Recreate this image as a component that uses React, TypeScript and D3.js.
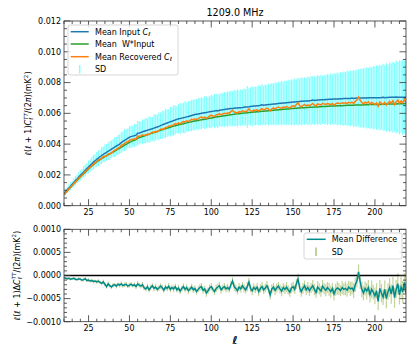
import React from 'react';
import * as d3 from 'd3';

// multipole range starts at l = 10, one value per l
const L_START = 10;
// values below are in units of 1e-5 mK^2
const UNIT = 1e-5;

const meanInput = [
  78, 90, 103, 115, 127, 139, 151, 163, 174, 186,
  197, 208, 219, 230, 241, 252, 262, 272, 283, 292,
  301, 309, 318, 326, 333, 340, 347, 354, 360, 367,
  374, 381, 388, 394, 400, 410, 418, 425, 431, 438,
  445, 449, 452, 455, 458, 471, 473, 476, 480, 484,
  487, 490, 494, 497, 500, 504, 508, 511, 515, 520,
  525, 529, 533, 537, 541, 546, 549, 553, 557, 561,
  565, 566, 569, 571, 574, 577, 580, 583, 586, 589,
  592, 594, 596, 598, 600, 602, 604, 606, 608, 610,
  612, 613, 615, 619, 616, 620, 621, 623, 625, 627,
  629, 630, 631, 632, 633, 634, 635, 636, 637, 638,
  640, 641, 642, 643, 645, 646, 647, 648, 649, 650,
  652, 655, 653, 655, 656, 657, 658, 659, 660, 661,
  663, 664, 665, 666, 667, 668, 669, 670, 671, 672,
  673, 674, 675, 676, 677, 678, 679, 680, 680, 681,
  682, 683, 686, 683, 685, 686, 687, 688, 688, 689,
  690, 690, 691, 692, 692, 693, 693, 694, 694, 695,
  695, 696, 696, 697, 697, 697, 700, 697, 698, 699,
  699, 699, 700, 700, 700, 700, 701, 701, 701, 701,
  702, 702, 702, 702, 703, 705, 701, 703, 703, 704,
  704, 704, 704, 706, 705, 705, 705, 705, 705, 705,
];

const meanWInput = [
  72, 84, 96, 108, 119, 131, 143, 154, 165, 176,
  187, 197, 208, 218, 228, 238, 248, 258, 267, 276,
  284, 292, 299, 306, 313, 319, 325, 331, 337, 343,
  349, 355, 361, 367, 373, 380, 386, 393, 399, 405,
  411, 416, 421, 425, 429, 438, 442, 446, 450, 453,
  457, 461, 464, 468, 472, 475, 479, 482, 486, 490,
  493, 497, 500, 504, 507, 510, 514, 517, 520, 523,
  526, 528, 531, 533, 536, 538, 541, 543, 546, 548,
  550, 552, 554, 556, 558, 560, 562, 564, 566, 568,
  570, 572, 574, 576, 578, 580, 581, 583, 585, 586,
  588, 589, 591, 592, 594, 595, 597, 598, 599, 600,
  602, 603, 604, 605, 606, 607, 608, 609, 610, 611,
  612, 613, 614, 615, 616, 617, 618, 619, 620, 621,
  622, 623, 624, 625, 626, 627, 628, 629, 630, 631,
  632, 633, 633, 634, 635, 636, 636, 637, 638, 638,
  639, 640, 640, 641, 642, 642, 643, 643, 644, 645,
  645, 646, 646, 647, 647, 648, 648, 649, 649, 650,
  650, 651, 651, 652, 652, 652, 653, 653, 654, 654,
  654, 655, 655, 655, 656, 656, 656, 657, 657, 657,
  657, 658, 658, 658, 659, 659, 659, 660, 660, 660,
  660, 661, 661, 661, 662, 662, 662, 663, 663, 663,
];

const meanRecovered = [
  73, 84, 96, 109, 119, 132, 145, 155, 165, 179,
  189, 198, 210, 223, 230, 242, 250, 261, 270, 280,
  287, 297, 303, 309, 319, 321, 323, 336, 338, 342,
  353, 361, 365, 375, 379, 392, 396, 405, 412, 415,
  424, 430, 430, 435, 434, 453, 452, 453, 460, 457,
  458, 466, 463, 471, 478, 476, 483, 481, 488, 497,
  499, 497, 508, 509, 518, 516, 523, 524, 533, 530,
  538, 532, 541, 547, 544, 551, 547, 554, 561, 558,
  564, 559, 566, 572, 576, 570, 575, 568, 575, 583,
  588, 583, 580, 591, 591, 598, 590, 596, 601, 598,
  603, 600, 611, 620, 609, 606, 602, 611, 608, 616,
  613, 610, 618, 629, 617, 613, 621, 618, 624, 615,
  624, 631, 622, 628, 634, 627, 616, 630, 635, 629,
  636, 641, 636, 632, 641, 638, 644, 639, 635, 645,
  649, 644, 657, 668, 651, 643, 651, 658, 649, 655,
  649, 656, 664, 653, 648, 661, 658, 654, 665, 661,
  658, 664, 661, 657, 664, 653, 662, 667, 665, 662,
  669, 666, 668, 665, 672, 668, 673, 664, 678, 687,
  707, 685, 670, 662, 672, 666, 675, 660, 671, 665,
  658, 669, 646, 674, 665, 658, 671, 653, 668, 678,
  664, 682, 656, 676, 687, 663, 680, 669, 690, 667,
];

const sdInput = [
  18, 22, 20, 24, 26, 23, 28, 30, 27, 32,
  34, 31, 36, 38, 35, 42, 40, 44, 47, 43,
  48, 52, 46, 55, 50, 58, 54, 57, 61, 56,
  60, 64, 58, 66, 62, 68, 65, 71, 67, 63,
  70, 74, 68, 76, 72, 79, 75, 71, 80, 77,
  82, 78, 85, 81, 76, 88, 84, 80, 90, 86,
  92, 88, 95, 90, 86, 97, 93, 99, 94, 89,
  96, 101, 94, 98, 104, 95, 100, 97, 103, 99,
  102, 98, 106, 100, 104, 97, 108, 103, 99, 105,
  108, 102, 111, 106, 112, 104, 110, 107, 113, 109,
  115, 110, 117, 112, 118, 114, 120, 113, 119, 116,
  121, 117, 135, 119, 124, 130, 122, 127, 125, 131,
  128, 134, 126, 133, 129, 136, 131, 138, 133, 140,
  135, 142, 137, 144, 139, 146, 141, 148, 143, 150,
  145, 152, 147, 155, 149, 157, 151, 154, 150, 158,
  153, 160, 155, 158, 152, 161, 156, 163, 157, 160,
  158, 165, 160, 167, 162, 169, 164, 171, 166, 173,
  170, 176, 172, 179, 175, 182, 178, 185, 181, 188,
  184, 192, 188, 195, 191, 199, 194, 202, 197, 206,
  201, 210, 205, 214, 208, 218, 212, 222, 216, 226,
  220, 230, 224, 235, 228, 240, 233, 245, 238, 250,
];

const meanDiff = [
  -5, -6, -7, -6, -8, -7, -6, -8, -9, -7,
  -8, -10, -9, -7, -11, -10, -12, -11, -13, -12,
  -14, -12, -15, -17, -14, -19, -24, -18, -22, -25,
  -21, -20, -23, -19, -21, -18, -22, -20, -19, -23,
  -21, -19, -22, -20, -24, -18, -21, -23, -20, -27,
  -29, -24, -31, -26, -22, -28, -25, -30, -27, -23,
  -26, -32, -25, -28, -23, -30, -26, -29, -24, -31,
  -27, -34, -28, -24, -30, -26, -33, -29, -25, -31,
  -28, -35, -30, -26, -24, -32, -29, -38, -33, -27,
  -24, -30, -35, -28, -25, -22, -31, -27, -24, -29,
  -26, -30, -20, -12, -24, -28, -33, -25, -29, -22,
  -27, -31, -24, -14, -28, -33, -26, -30, -25, -35,
  -28, -24, -31, -27, -22, -30, -42, -29, -25, -32,
  -27, -23, -29, -34, -26, -30, -25, -31, -36, -27,
  -24, -30, -18, -8, -26, -35, -28, -22, -31, -26,
  -33, -27, -22, -30, -37, -25, -29, -34, -23, -28,
  -32, -26, -30, -35, -28, -40, -31, -27, -29, -33,
  -26, -30, -28, -32, -25, -29, -27, -33, -20, -12,
  8, -14, -30, -38, -28, -34, -26, -41, -30, -36,
  -44, -33, -56, -28, -38, -47, -30, -50, -35, -26,
  -40, -22, -48, -30, -18, -42, -25, -36, -15, -38,
];

const sdDiff = [
  2, 2, 3, 2, 3, 2, 3, 3, 2, 3,
  3, 3, 4, 3, 3, 4, 3, 4, 4, 3,
  4, 4, 3, 4, 5, 4, 4, 5, 4, 4,
  5, 4, 5, 4, 5, 5, 4, 5, 5, 4,
  5, 5, 4, 5, 5, 6, 5, 5, 6, 5,
  5, 6, 5, 6, 5, 6, 6, 5, 6, 6,
  6, 5, 6, 6, 7, 6, 6, 7, 6, 6,
  7, 6, 6, 7, 6, 7, 7, 6, 7, 7,
  7, 6, 7, 7, 8, 7, 7, 8, 7, 7,
  8, 7, 7, 8, 7, 8, 8, 7, 8, 8,
  8, 7, 8, 8, 9, 8, 8, 9, 8, 8,
  9, 8, 10, 9, 8, 9, 9, 8, 9, 10,
  9, 10, 9, 9, 10, 9, 10, 10, 9, 10,
  10, 9, 10, 11, 10, 10, 11, 10, 10, 11,
  11, 10, 11, 12, 10, 11, 12, 11, 11, 12,
  12, 11, 12, 12, 11, 13, 12, 12, 13, 12,
  13, 12, 14, 13, 12, 14, 13, 14, 13, 12,
  14, 13, 15, 14, 13, 15, 14, 16, 15, 14,
  16, 15, 17, 16, 15, 18, 16, 17, 19, 16,
  18, 17, 19, 18, 20, 17, 19, 21, 18, 20,
  21, 19, 22, 20, 23, 21, 22, 24, 20, 23,
];

const xTicks = [25, 50, 75, 100, 125, 150, 175, 200];
const topYTicks = [0, 0.002, 0.004, 0.006, 0.008, 0.01, 0.012];
const botYTicks = [-0.001, -0.0005, 0, 0.0005, 0.001];

const W = 415;
const H = 356;
const FONT = 'DejaVu Sans, sans-serif';
const AX = '#333';

const left = 64;
const right = 406;
const top1 = 21;
const bot1 = 205.7;
const top2 = 229.3;
const bot2 = 321.7;

function Ticks({ x, y, xt, yt, xMinor, yMinor, yFmt, y0, y1 }: any) {
  const MAJ = 6.5;
  const MIN = 3;
  const els: any[] = [];
  xMinor.forEach((v: number, i: number) => {
    const px = x(v);
    els.push(<line key={'xm' + i} x1={px} x2={px} y1={y1} y2={y1 - MIN} />);
    els.push(<line key={'xmt' + i} x1={px} x2={px} y1={y0} y2={y0 + MIN} />);
  });
  xt.forEach((v: number, i: number) => {
    const px = x(v);
    els.push(<line key={'x' + i} x1={px} x2={px} y1={y1} y2={y1 - MAJ} />);
    els.push(<line key={'xt' + i} x1={px} x2={px} y1={y0} y2={y0 + MAJ} />);
  });
  yMinor.forEach((v: number, i: number) => {
    const py = y(v);
    els.push(<line key={'ym' + i} x1={left} x2={left + MIN} y1={py} y2={py} />);
    els.push(<line key={'ymr' + i} x1={right} x2={right - MIN} y1={py} y2={py} />);
  });
  yt.forEach((v: number, i: number) => {
    const py = y(v);
    els.push(<line key={'y' + i} x1={left} x2={left + MAJ} y1={py} y2={py} />);
    els.push(<line key={'yr' + i} x1={right} x2={right - MAJ} y1={py} y2={py} />);
  });
  return (
    <g>
      <g stroke={AX} strokeWidth={0.8}>{els}</g>
      <g fontSize={8} fill="#000">
        {xt.map((v: number) => (
          <text key={'lx' + v} x={x(v)} y={y1 + 8.9} textAnchor="middle">{v}</text>
        ))}
        {yt.map((v: number) => (
          <text key={'ly' + v} x={left - 3} y={y(v)} dy="0.35em" textAnchor="end">{yFmt(v)}</text>
        ))}
      </g>
      <rect x={left} y={y0} width={right - left} height={y1 - y0} fill="none" stroke={AX} strokeWidth={0.8} />
    </g>
  );
}

export default function App() {
  const ells = d3.range(L_START, L_START + meanInput.length);
  const x = d3.scaleLinear().domain([10, 219]).range([left, right]);
  const yTop = d3.scaleLinear().domain([0, 0.012]).range([bot1, top1]);
  const yBot = d3.scaleLinear().domain([-0.001, 0.001]).range([bot2, top2]);

  const lineTop = (arr: number[]) =>
    d3.line<number>().x((_, i) => x(ells[i])).y((d) => yTop(d * UNIT))(arr) || '';
  const lineBot = d3.line<number>().x((_, i) => x(ells[i])).y((d) => yBot(d * UNIT));

  const xMinor = d3.range(10, 220, 5).filter((v) => v % 25 !== 0);
  const yMinorTop = d3.range(0, 0.01201, 0.0005).filter((_, i) => i % 4 !== 0);
  const yMinorBot = d3.range(-0.001, 0.001001, 0.0001).filter((_, i) => i % 5 !== 0);

  const fmtTop = (v: number) => v.toFixed(3);
  const fmtBot = (v: number) => (Math.abs(v) < 1e-12 ? '0.0000' : v.toFixed(4).replace('-', '\u2212'));

  const sub = 5.6;

  return (
    <svg width={W} height={H} style={{ position: 'absolute', left: 0, top: 0 }} fontFamily={FONT}>
      <defs>
        <clipPath id="c1"><rect x={left} y={top1} width={right - left} height={bot1 - top1} /></clipPath>
        <clipPath id="c2"><rect x={left} y={top2} width={right - left} height={bot2 - top2} /></clipPath>
      </defs>
      <rect width={W} height={H} fill="#fff" />

      <text x={(left + right) / 2} y={15.5} textAnchor="middle" fontSize={9.6}>1209.0 MHz</text>

      {/* top panel */}
      <g clipPath="url(#c1)">
        <g stroke="#00ffff" strokeOpacity={0.5} strokeWidth={1.2}>
          {ells.map((l, i) => (
            <line key={l} x1={x(l)} x2={x(l)}
              y1={yTop((meanInput[i] - sdInput[i]) * UNIT)}
              y2={yTop((meanInput[i] + sdInput[i]) * UNIT)} />
          ))}
        </g>
        <path d={lineTop(meanInput)} fill="none" stroke="#1f77b4" strokeWidth={1.5} />
        <path d={lineTop(meanWInput)} fill="none" stroke="#2ca02c" strokeWidth={1.5} />
        <path d={lineTop(meanRecovered)} fill="none" stroke="#ff7f0e" strokeWidth={1.5} />
      </g>
      <Ticks x={x} y={yTop} xt={xTicks} yt={topYTicks} xMinor={xMinor} yMinor={yMinorTop}
        yFmt={fmtTop} y0={top1} y1={bot1} />

      {/* top legend */}
      <g fontSize={8}>
        <rect x={68} y={25} width={110} height={50} rx={2} fill="#fff" fillOpacity={0.8} stroke="#ccc" strokeWidth={0.8} />
        <line x1={70.7} x2={88.7} y1={31.7} y2={31.7} stroke="#1f77b4" strokeWidth={1.5} />
        <line x1={70.7} x2={88.7} y1={44} y2={44} stroke="#2ca02c" strokeWidth={1.5} />
        <line x1={70.7} x2={88.7} y1={56.7} y2={56.7} stroke="#ff7f0e" strokeWidth={1.5} />
        <line x1={79.7} x2={79.7} y1={65} y2={73.5} stroke="#00ffff" strokeOpacity={0.5} strokeWidth={1.5} />
        <text x={95} y={31.7} dy="0.35em">Mean Input <tspan fontStyle="italic">C</tspan><tspan fontSize={sub} dy={1.5} fontStyle="italic">ℓ</tspan></text>
        <text x={95} y={44} dy="0.35em" style={{ whiteSpace: 'pre' }}>Mean  W*Input</text>
        <text x={95} y={56.7} dy="0.35em">Mean Recovered <tspan fontStyle="italic">C</tspan><tspan fontSize={sub} dy={1.5} fontStyle="italic">ℓ</tspan></text>
        <text x={95} y={69.3} dy="0.35em">SD</text>
      </g>

      {/* bottom panel */}
      <g clipPath="url(#c2)">
        <g stroke="#9ab55a" strokeOpacity={0.6} strokeWidth={1.2}>
          {ells.map((l, i) => (
            <line key={l} x1={x(l)} x2={x(l)}
              y1={yBot((meanDiff[i] - sdDiff[i]) * UNIT)}
              y2={yBot((meanDiff[i] + sdDiff[i]) * UNIT)} />
          ))}
        </g>
        <line x1={left} x2={right} y1={yBot(0)} y2={yBot(0)} stroke="#000" strokeWidth={1.5} />
        <path d={lineBot(meanDiff) || ''} fill="none" stroke="#008b8b" strokeWidth={1.5} />
      </g>
      <Ticks x={x} y={yBot} xt={xTicks} yt={botYTicks} xMinor={xMinor} yMinor={yMinorBot}
        yFmt={fmtBot} y0={top2} y1={bot2} />

      {/* bottom legend */}
      <g fontSize={8}>
        <rect x={304} y={233} width={98} height={26} rx={2} fill="#fff" fillOpacity={0.8} stroke="#ccc" strokeWidth={0.8} />
        <line x1={306.7} x2={325.7} y1={239.3} y2={239.3} stroke="#008b8b" strokeWidth={1.5} />
        <line x1={316} x2={316} y1={247.5} y2={256} stroke="#9ab55a" strokeOpacity={0.8} strokeWidth={1.5} />
        <text x={331.7} y={239.3} dy="0.35em">Mean Difference</text>
        <text x={331.7} y={251.7} dy="0.35em">SD</text>
      </g>

      {/* axis labels */}
      <text transform={`translate(31,${(top1 + bot1) / 2}) rotate(-90)`} textAnchor="middle" fontSize={8}>
        <tspan fontStyle="italic">ℓ</tspan>(<tspan fontStyle="italic">ℓ</tspan> + 1)<tspan fontStyle="italic">C</tspan>
        <tspan fontSize={sub} dy={-3.5} fontStyle="italic">TT</tspan>
        <tspan fontSize={sub} dx={-6.8} dy={5.5} fontStyle="italic">ℓ</tspan>
        <tspan dx={4.4} dy={-2}>/(2</tspan><tspan fontStyle="italic">π</tspan>)(mK<tspan fontSize={sub} dy={-3.5}>2</tspan><tspan dy={3.5}>)</tspan>
      </text>
      <text transform={`translate(19.5,${(top2 + bot2) / 2}) rotate(-90)`} textAnchor="middle" fontSize={8}>
        <tspan fontStyle="italic">ℓ</tspan>(<tspan fontStyle="italic">ℓ</tspan> + 1)Δ<tspan fontStyle="italic">C</tspan>
        <tspan fontSize={sub} dy={-3.5} fontStyle="italic">TT</tspan>
        <tspan fontSize={sub} dx={-6.8} dy={5.5} fontStyle="italic">ℓ</tspan>
        <tspan dx={4.4} dy={-2}>/(2</tspan><tspan fontStyle="italic">π</tspan>)(mK<tspan fontSize={sub} dy={-3.5}>2</tspan><tspan dy={3.5}>)</tspan>
      </text>
      <text x={(left + right) / 2} y={344} textAnchor="middle" fontSize={11} fontWeight="bold" fontStyle="italic">ℓ</text>
    </svg>
  );
}
